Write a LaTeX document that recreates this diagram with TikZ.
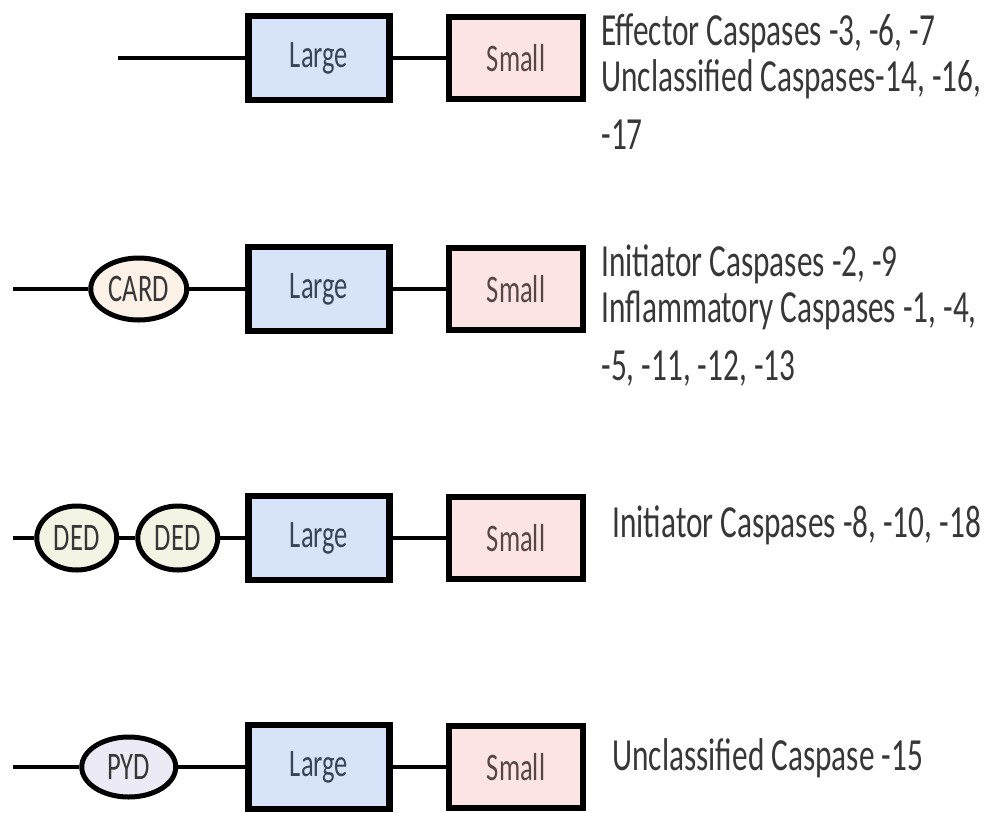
\documentclass[tikz,border=0pt]{standalone}
\usepackage{fontspec}
\setmainfont{Carlito}
\newfontfamily\narrowfont[FakeStretch=0.68]{Carlito}
\usepackage{xcolor}
\usepackage{tikz}
\usetikzlibrary{positioning,shapes.geometric}

\definecolor{largefill}{RGB}{214,227,248}
\definecolor{smallfill}{RGB}{252,228,228}
\definecolor{cardfill}{RGB}{251,241,230}
\definecolor{dedfill}{RGB}{244,244,228}
\definecolor{pydfill}{RGB}{236,234,244}
\definecolor{largetext}{RGB}{55,68,88}
\definecolor{smalltext}{RGB}{85,70,70}
\definecolor{greytext}{RGB}{55,55,55}

\begin{document}
\begin{tikzpicture}[x=1pt,y=-1pt,
		largebox/.style={minimum height=84pt,minimum width=141pt,draw=black,line width=6.5pt,fill=largefill,text=largetext,font=\narrowfont\fontsize{39}{40}\selectfont},
		smallbox/.style={minimum height=82pt,minimum width=134pt,draw=black,line width=6.5pt,fill=smallfill,text=smalltext,font=\narrowfont\fontsize{39}{40}\selectfont},
		prodomain/.style={ellipse,inner sep=0pt,minimum width=92pt,minimum height=60pt,draw=black,line width=5pt,text=greytext,font=\narrowfont\fontsize{39}{40}\selectfont},
		caption/.style={inner sep=0pt,align=left,text=greytext,font=\narrowfont\fontsize{46}{46}\selectfont},
		link/.style={line width=4pt}]
		\useasboundingbox (0,0) rectangle (994,812);
		
		% effector
		\node[largebox] (l1) at (319,58) {Large};
		\node[smallbox,right=53pt of l1] (s1) {Small};
		\node[caption,right=15pt of s1.north east,anchor=north west] (t1) {Effector Caspases -3, -6, -7\\Unclassified Caspases-14, -16,\\[12pt]-17};
		\coordinate (e1) at (118,58);
		\draw[link] (e1)--(l1);
		\draw[link] (l1)--(s1);
		
		% CARD
		\node[largebox] (l2) at (319,289) {Large};
		\node[smallbox,right=53pt of l2] (s2) {Small};
		\node[prodomain,fill=cardfill,minimum width=96pt,minimum height=62pt,left=56pt of l2] (card) {CARD};
		\node[caption,right=15pt of s2.north east,anchor=north west] (t2) {Initiator Caspases -2, -9\\Inflammatory Caspases -1, -4,\\[12pt]-5, -11, -12, -13};
		\coordinate (e2) at (13,289);
		\draw[link] (e2)--(card);
		\draw[link] (card)--(l2);
		\draw[link] (l2)--(s2);
		
		% DED
		\node[largebox] (l3) at (319,538) {Large};
		\node[smallbox,right=53pt of l3] (s3) {Small};
		\node[prodomain,fill=dedfill,minimum width=80pt,minimum height=64pt,left=25pt of l3] (ded2) {DED};
		\node[prodomain,fill=dedfill,minimum width=80pt,minimum height=64pt,left=16pt of ded2] (ded1) {DED};
		\node[caption,right=26pt of s3.north east,anchor=north west,yshift=-12pt] (t3) {Initiator Caspases -8, -10, -18};
		\coordinate (e3) at (13,538);
		\draw[link] (e3)--(ded1);
		\draw[link] (ded1)--(ded2);
		\draw[link] (ded2)--(l3);
		\draw[link] (l3)--(s3);
		
		% PYD
		\node[largebox] (l4) at (319,767) {Large};
		\node[smallbox,right=53pt of l4] (s4) {Small};
		\node[prodomain,fill=pydfill,minimum width=94pt,minimum height=60pt,left=67pt of l4] (pyd) {PYD};
		\node[caption,right=26pt of s4.north east,anchor=north west,yshift=-16pt] (t4) {Unclassified Caspase -15};
		\coordinate (e4) at (13,767);
		\draw[link] (e4)--(pyd);
		\draw[link] (pyd)--(l4);
		\draw[link] (l4)--(s4);
	\end{tikzpicture}
\end{document}
